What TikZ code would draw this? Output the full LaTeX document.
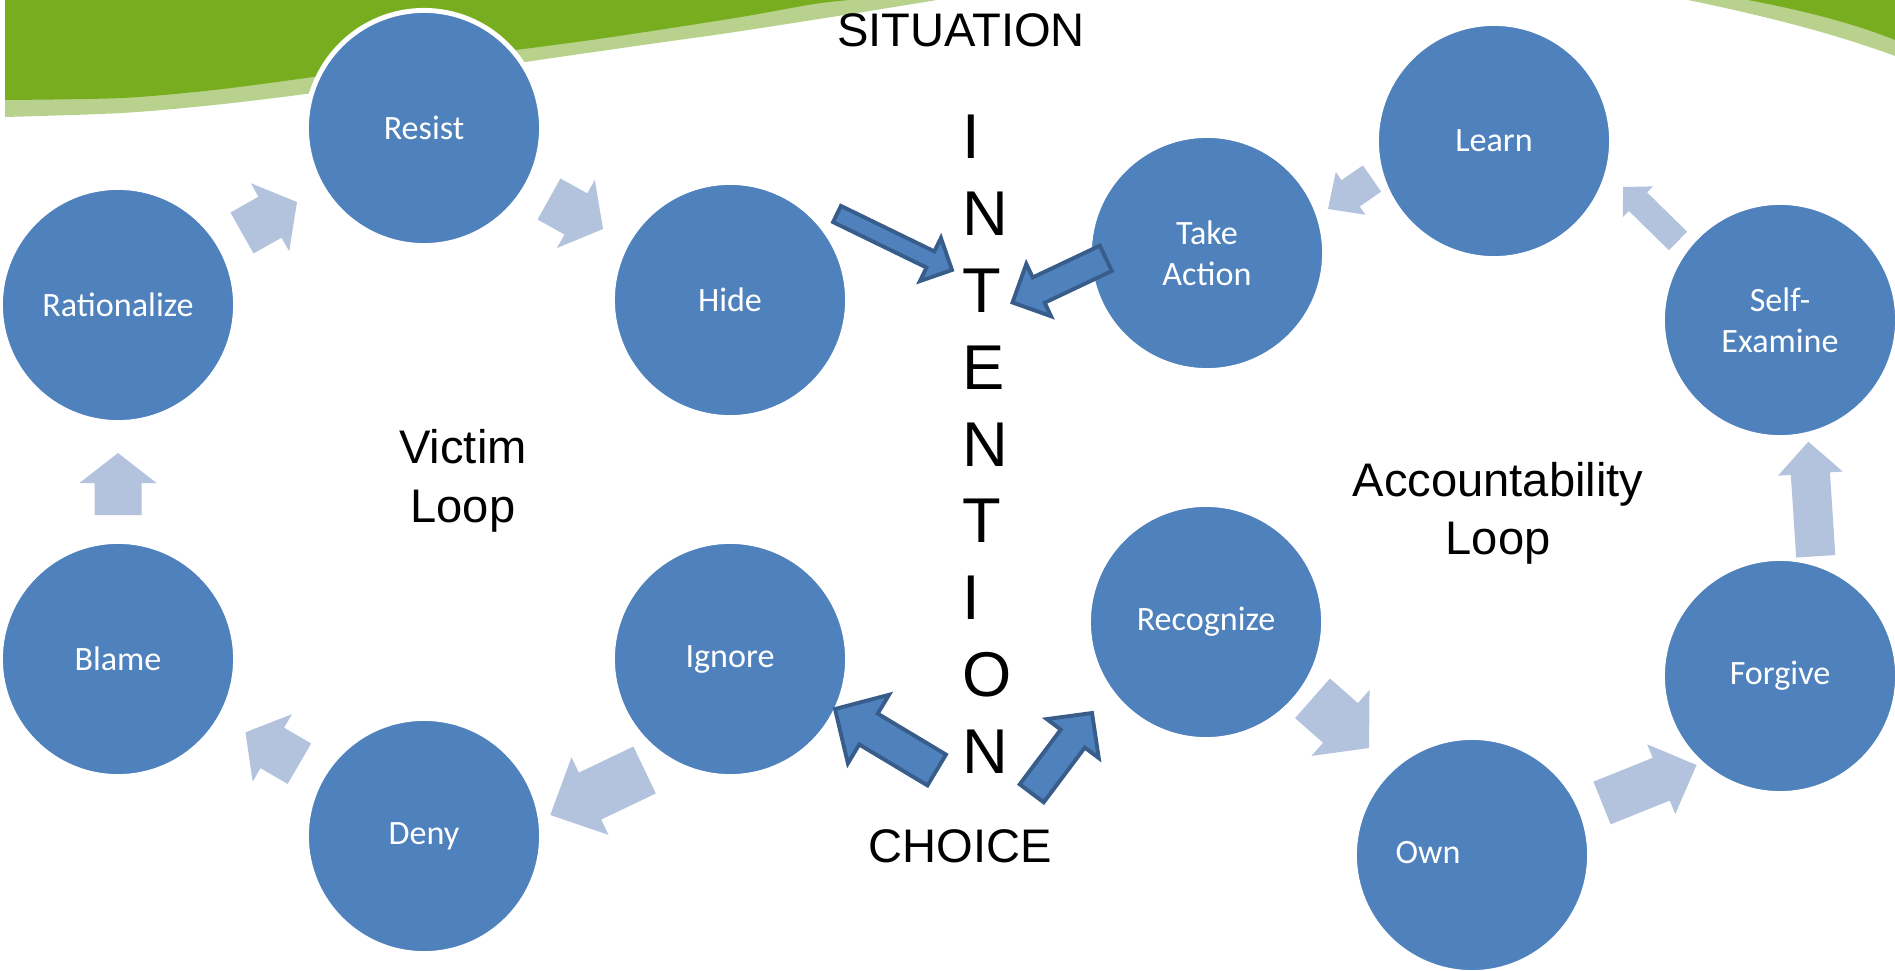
\documentclass[tikz,border=0pt]{standalone}
\usepackage{fontspec}
\setmainfont{Liberation Sans}
\newfontfamily\calibri{Carlito}
\usetikzlibrary{calc}
\definecolor{cblue}{RGB}{79,129,189}
\definecolor{cedge}{RGB}{56,93,138}
\definecolor{lblue}{RGB}{179,194,221}
\definecolor{dgreen}{RGB}{121,173,32}
\definecolor{lgreen}{RGB}{184,210,142}
% block arrow: #1 style, #2 back point, #3 tip point, #4 half shaft, #5 half head, #6 head length (px)
\newcommand\blockarr[6]{%
  \coordinate (bk) at #2;
  \coordinate (tp) at #3;
  \coordinate (hb) at ($(tp)!#6*0.01cm!(bk)$);
  \path[#1] ($(bk)!#4*0.01cm!90:(tp)$) -- ($(hb)!#4*0.01cm!90:(tp)$)
    -- ($(hb)!#5*0.01cm!90:(tp)$) -- (tp) -- ($(hb)!#5*0.01cm!-90:(tp)$)
    -- ($(hb)!#4*0.01cm!-90:(tp)$) -- ($(bk)!#4*0.01cm!-90:(tp)$) -- cycle;}
\begin{document}
\begin{tikzpicture}[x=0.01cm,y=-0.01cm,
  circ/.style={circle, fill=cblue, draw=white, line width=1.4pt, minimum size=2.35cm,
    inner sep=0pt, text=white, font=\calibri\fontsize{9.7}{11.7}\selectfont, align=center},
  lbl/.style={text=white, font=\calibri\fontsize{9.7}{11.7}\selectfont, inner sep=0pt},
  larr/.style={fill=lblue},
  darr/.style={fill=cblue, draw=cedge, line width=1.1pt, line join=miter},
  bigt/.style={font=\fontsize{13.4}{16}\selectfont, inner sep=0pt, text=black},
  intl/.style={font=\fontsize{18}{22}\selectfont, inner sep=0pt, text=black, anchor=base west}]
\useasboundingbox (0,0) rectangle (1895,970);
% green band
\fill[lgreen] (5,0) -- plot[smooth] coordinates {(5,117) (122,113) (214,105) (306,94) (420,78) (539,60) (650,44) (735,32) (857,13) (937,0)} -- cycle;
\fill[dgreen] (5,0) -- plot[smooth] coordinates {(5,100) (122,98) (214,90) (306,78) (420,62) (539,47) (612,37) (735,18) (814,4) (850,0)} -- cycle;
\fill[lgreen] (1688,0) .. controls (1760,15) and (1830,32) .. (1895,56) -- (1895,0) -- cycle;
\fill[dgreen] (1748,0) .. controls (1800,10) and (1850,22) .. (1895,40) -- (1895,0) -- cycle;
% circles
\node[circ] (rat) at (118,305) {Rationalize};
\node[circ] (res) at (424,128) {Resist};
\node[circ] (hide) at (730,300) {Hide};
\node[circ] (blame) at (118,659) {Blame};
\node[circ] (deny) at (424,836) {Deny};
\node[circ] (ign) at (730,659) {Ignore};
\node[circ] (take) at (1207,253) {Take\\Action};
\node[circ] (learn) at (1494,141) {Learn};
\node[circ] (self) at (1780,320) {Self-\\Examine};
\node[circ] (recog) at (1206,622) {Recognize};
\node[circ] (own) at (1472,855) {};
\node[lbl] (ownlbl) at (1428,853) {Own};
\node[circ] (forg) at (1780,676) {Forgive};
% light cycle arrows
\blockarr{larr}{(242,233)}{(297,202)}{23.5}{39}{31}
\blockarr{larr}{(549,199)}{(603,229)}{23.5}{39}{31}
\blockarr{larr}{(1372,178.5)}{(1328,209)}{16}{26}{27.5}
\blockarr{larr}{(1678,241)}{(1623,187)}{13}{21.5}{21}
\blockarr{larr}{(1815.7,556.3)}{(1808.3,441.7)}{19.6}{32.5}{32}
\blockarr{larr}{(1602,803)}{(1696.5,765)}{23}{37.5}{38}
\blockarr{larr}{(1312.5,698.3)}{(1369,748)}{26.4}{44}{38}
\blockarr{larr}{(644.6,770)}{(550.3,815)}{26}{43}{44}
\blockarr{larr}{(299.4,763.7)}{(245.5,732.3)}{23.4}{39}{31}
\blockarr{larr}{(118,515)}{(118,453)}{23.5}{38.5}{30}
% dark arrows
\blockarr{darr}{(837,214)}{(952,270)}{9}{24}{24}
\blockarr{darr}{(1105.8,258.3)}{(1012.5,302.5)}{14}{29}{29}
\blockarr{darr}{(936.7,770)}{(835,709)}{18}{40}{39}
\blockarr{darr}{(1031.7,793.3)}{(1092,713)}{15}{32.5}{32}
% texts
\node[bigt, anchor=base] (sit) at (961,47) {SITUATION};
\node[bigt, anchor=base] (cho) at (960,862) {CHOICE};
\node[bigt, anchor=base] (vic) at (463,463) {Victim};
\node[bigt, anchor=base] (vloop) at (463,522) {Loop};
\node[bigt, anchor=base] (acc) at (1498,496) {Accountability};
\node[bigt, anchor=base] (aloop) at (1498,554) {Loop};
\foreach \l [count=\i] in {I,N,T,E,N,T,I,O,N}
  \node[intl] (int\i) at (962,{159+76.75*(\i-1)}) {\l};
\end{tikzpicture}
\end{document}
